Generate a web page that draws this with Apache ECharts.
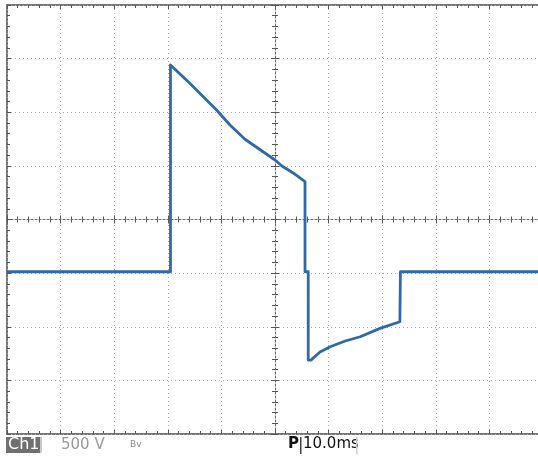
<!DOCTYPE html>
<html><head><meta charset="utf-8">
<script src="https://cdn.jsdelivr.net/npm/echarts@6/dist/echarts.min.js"></script>
<style>html,body{margin:0;padding:0;background:#fff}#c{width:538px;height:458px}</style>
</head><body><div id="c"></div>
<script>
// time in ms relative to screen centre, voltage in V (500 V/div, 10 ms/div)
var timeMs = [-50, -19.5, -19.5, -15.9, -10.9, -8.4, -5.6, 0, 1.3, 3.7, 5.6, 5.6, 6.2, 6.2, 6.7, 8.4, 10.3, 13.1, 15.9, 19.6, 23.3, 23.4, 23.4, 50];
var volts  = [-487, -487, 1441, 1270, 1021, 881, 748, 555, 499, 424, 353, -487, -487, -1311, -1311, -1236, -1187, -1133, -1093, -1015, -953, -953, -487, -487];
var xTicks = {min: -50, max: 50, step: 10};
var yTicks = {min: -2000, max: 2000, step: 500};
var chLabel = 'Ch1', voltLabel = '500 V', bwLabel = 'Bv', posLabel = 'P', timeLabel = '10.0ms';

var chart = echarts.init(document.getElementById('c'), null, {renderer: 'canvas'});
var dotted = {color: '#a8a8a8', width: 1, type: [1, 3]};
function xAx(extra) {
  return Object.assign({type: 'value', min: xTicks.min, max: xTicks.max, interval: xTicks.step,
    axisLabel: {show: false}, splitLine: {show: false}, axisLine: {show: false}, axisTick: {show: false}}, extra);
}
function yAx(extra) {
  return Object.assign({type: 'value', min: yTicks.min, max: yTicks.max, interval: yTicks.step,
    axisLabel: {show: false}, splitLine: {show: false}, axisLine: {show: false}, axisTick: {show: false}}, extra);
}
var tk = {color: '#555', width: 1};
var data = timeMs.map(function (t, i) { return [t, volts[i]]; });
chart.setOption({
  animation: false,
  backgroundColor: '#fff',
  grid: {left: 7, top: 5, width: 536, height: 429, outerBoundsMode: 'none', containLabel: false,
         show: true, borderColor: '#777', borderWidth: 2, backgroundColor: 'transparent'},
  xAxis: [
    xAx({splitLine: {show: true, lineStyle: dotted},
         axisLine: {show: true, onZero: true, lineStyle: {color: '#666', width: 1, type: [2, 2]}},
         axisTick: {show: true, inside: true, length: 4, lineStyle: tk},
         minorTick: {show: true, splitNumber: 5, length: 3, lineStyle: tk}}),
    xAx({position: 'bottom', axisLine: {show: false, onZero: true},
         axisTick: {show: true, inside: false, length: 4, lineStyle: tk},
         minorTick: {show: true, splitNumber: 5, length: 3, lineStyle: tk}}),
    xAx({position: 'bottom', axisLine: {show: false, onZero: false},
         axisTick: {show: true, inside: true, length: 4, lineStyle: tk},
         minorTick: {show: true, splitNumber: 5, length: 3, lineStyle: tk}}),
    xAx({position: 'top', axisLine: {show: false, onZero: false},
         axisTick: {show: true, inside: true, length: 4, lineStyle: tk},
         minorTick: {show: true, splitNumber: 5, length: 3, lineStyle: tk}})
  ],
  yAxis: [
    yAx({splitLine: {show: true, lineStyle: dotted},
         axisLine: {show: true, onZero: true, lineStyle: {color: '#666', width: 1, type: [2, 2]}},
         axisTick: {show: true, inside: true, length: 4, lineStyle: tk},
         minorTick: {show: true, splitNumber: 5, length: 3, lineStyle: tk}}),
    yAx({position: 'left', axisLine: {show: false, onZero: true},
         axisTick: {show: true, inside: false, length: 4, lineStyle: tk},
         minorTick: {show: true, splitNumber: 5, length: 3, lineStyle: tk}}),
    yAx({position: 'left', axisLine: {show: false, onZero: false},
         axisTick: {show: true, inside: true, length: 4, lineStyle: tk},
         minorTick: {show: true, splitNumber: 5, length: 3, lineStyle: tk}})
  ],
  series: [{
    type: 'line', data: data, showSymbol: false, symbol: 'none',
    lineStyle: {color: '#3069a8', width: 2.8, join: 'round'}, z: 10
  }],
  graphic: [
    {type: 'rect', shape: {x: 6, y: 437, width: 34, height: 16}, style: {fill: '#707070'}},
    {type: 'text', left: 8, top: 437, style: {text: chLabel, fill: '#fff', font: '16px "DejaVu Sans", sans-serif'}},
    {type: 'rect', shape: {x: 40, y: 437, width: 2, height: 16}, style: {fill: '#ccc'}},
    {type: 'text', left: 61, top: 438, style: {text: voltLabel, fill: '#9a9a9a', font: '15px "DejaVu Sans", sans-serif'}},
    {type: 'text', left: 130, top: 440, style: {text: bwLabel, fill: '#8a8a8a', font: '9px "DejaVu Sans", sans-serif'}},
    {type: 'text', left: 288, top: 437, style: {text: posLabel, fill: '#111', font: 'bold 15px "DejaVu Sans", sans-serif'}},
    {type: 'rect', shape: {x: 300, y: 437, width: 1.5, height: 17}, style: {fill: '#444'}},
    {type: 'text', left: 303, top: 437, style: {text: timeLabel, fill: '#111', font: '15px "DejaVu Sans", sans-serif'}},
    {type: 'rect', shape: {x: 356, y: 437, width: 1.5, height: 17}, style: {fill: '#ccc'}}
  ]
});
</script></body></html>
